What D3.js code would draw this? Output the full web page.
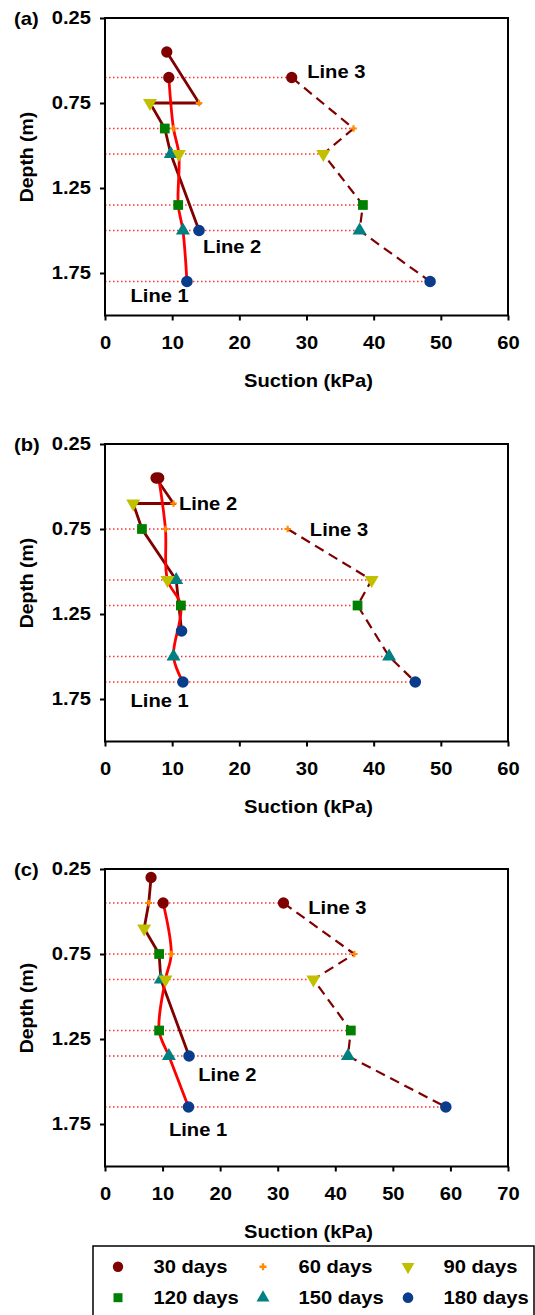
<!DOCTYPE html>
<html>
<head>
<meta charset="utf-8">
<script src="https://cdn.jsdelivr.net/npm/d3@7"></script>
<style>
    body { margin: 0; background: #fff; }
    svg text { font-family: "Liberation Sans", Arial, sans-serif; font-weight: bold; fill: #000; }
</style>
</head>
<body>
<svg id="chart" width="535" height="1315"></svg>
<script>
// categories / ticks
const dayLabels = ['30 days', '60 days', '90 days', '120 days', '150 days', '180 days'];
const depthTicks = [0.25, 0.75, 1.25, 1.75];
const suctionTicks60 = [0, 10, 20, 30, 40, 50, 60];
const suctionTicks70 = [0, 10, 20, 30, 40, 50, 60, 70];
const panelNames = ['(a)', '(b)', '(c)'];
const lineNames = ['Line 1', 'Line 2', 'Line 3'];

// panel (a) - one value per day (30..180)
const aLine1Suction = [9.5, 10.2, 11.0, 10.9, 11.6, 12.2];
const aLine1Depth = [0.6, 0.9, 1.05, 1.35, 1.5, 1.8];
const aLine2Suction = [9.2, 14.0, 6.7, 8.9, 9.8, 14.0];
const aLine2Depth = [0.45, 0.75, 0.75, 0.9, 1.05, 1.5];
const aLine3Suction = [27.8, 37.0, 32.5, 38.4, 37.9, 48.4];
const aLine3Depth = [0.6, 0.9, 1.05, 1.35, 1.5, 1.8];
const aLabelSuction = [3.8, 14.6, 30.1];
const aLabelDepth = [1.884, 1.595, 0.562];

// panel (b)
const bLine1Suction = [8.0, 9.0, 9.3, 11.3, 10.2, 11.6];
const bLine1Depth = [0.45, 0.75, 1.05, 1.2, 1.5, 1.65];
const bLine2Suction = [7.6, 10.2, 4.2, 5.5, 10.6, 11.4];
const bLine2Depth = [0.45, 0.6, 0.6, 0.75, 1.05, 1.35];
const bLine3Suction = [null, 27.2, 39.7, 37.6, 42.3, 46.2];
const bLine3Depth = [null, 0.75, 1.05, 1.2, 1.5, 1.65];
const bLabelSuction = [3.8, 11.0, 30.5];
const bLabelDepth = [1.76, 0.601, 0.75];

// panel (c)
const cLine1Suction = [10.1, 11.5, 10.5, 9.4, 11.1, 14.5];
const cLine1Depth = [0.45, 0.75, 0.9, 1.2, 1.35, 1.65];
const cLine2Suction = [8.0, 7.6, 6.8, 9.4, 9.7, 14.6];
const cLine2Depth = [0.3, 0.45, 0.6, 0.75, 0.9, 1.35];
const cLine3Suction = [31.0, 43.3, 36.2, 42.7, 42.2, 59.2];
const cLine3Depth = [0.45, 0.75, 0.9, 1.2, 1.35, 1.65];
const cLabelSuction = [11.1, 16.2, 35.3];
const cLabelDepth = [1.785, 1.456, 0.479];

// styles
const dayColors = ['#800000', '#ff8c00', '#c0c000', '#008000', '#008080', '#0a3c8c'];
const dayShapes = [d3.symbolCircle, d3.symbolCross, d3.symbolTriangle, d3.symbolSquare, d3.symbolTriangle, d3.symbolCircle];
const daySizes = [100, 24, 85, 95, 85, 105];
const dayRotate = [0, 0, 180, 0, 0, 0];
const STRETCH = 1.12;
const FONT = 18;

const svg = d3.select('#chart');

function toPoints(suction, depth) {
    return suction.map((s, i) => ({ day: i, s: s, d: depth[i] })).filter(p => p.s !== null);
}

const panels = [
    {
        name: panelNames[0], top: 18, ticks: suctionTicks60,
        lines: [toPoints(aLine1Suction, aLine1Depth), toPoints(aLine2Suction, aLine2Depth), toPoints(aLine3Suction, aLine3Depth)],
        labels: aLabelSuction.map((s, i) => ({ s: s, d: aLabelDepth[i], text: lineNames[i] }))
    },
    {
        name: panelNames[1], top: 444, ticks: suctionTicks60,
        lines: [toPoints(bLine1Suction, bLine1Depth), toPoints(bLine2Suction, bLine2Depth), toPoints(bLine3Suction, bLine3Depth)],
        labels: bLabelSuction.map((s, i) => ({ s: s, d: bLabelDepth[i], text: lineNames[i] }))
    },
    {
        name: panelNames[2], top: 869, ticks: suctionTicks70,
        lines: [toPoints(cLine1Suction, cLine1Depth), toPoints(cLine2Suction, cLine2Depth), toPoints(cLine3Suction, cLine3Depth)],
        labels: cLabelSuction.map((s, i) => ({ s: s, d: cLabelDepth[i], text: lineNames[i] }))
    }
];

// stretched bold text, baseline placed from a visual centre
function addText(g, x, y, str, anchor) {
    return g.append('text')
        .attr('transform', `translate(${x},${y + 6.5}) scale(${STRETCH},1)`)
        .attr('text-anchor', anchor || 'start')
        .style('font-size', FONT + 'px')
        .text(str);
}

const left = 105, right = 508, plotH = 297.5;

for (let p of panels) {
    const g = svg.append('g');
    const x = d3.scaleLinear().domain([0, d3.max(p.ticks)]).range([left, right]);
    const y = d3.scaleLinear().domain([0.25, 2.0]).range([p.top, p.top + plotH]);

    // dotted guides from the axis to each Line 3 reading
    g.selectAll('line.guide')
        .data(p.lines[2])
        .join('line')
        .attr('class', 'guide')
        .attr('x1', x(0))
        .attr('x2', d => x(d.s))
        .attr('y1', d => y(d.d))
        .attr('y2', d => y(d.d))
        .attr('stroke', '#ff3030')
        .attr('stroke-width', 1.5)
        .attr('stroke-dasharray', '1.5,2.5');

    // lines
    const lineGen = d3.line().x(d => x(d.s)).y(d => y(d.d));
    g.append('path').datum(p.lines[1])
        .attr('d', lineGen)
        .attr('fill', 'none').attr('stroke', '#800000').attr('stroke-width', 2.8);
    g.append('path').datum(p.lines[0])
        .attr('d', lineGen.curve(d3.curveCatmullRom.alpha(0.5)))
        .attr('fill', 'none').attr('stroke', '#ff0000').attr('stroke-width', 2.8);
    lineGen.curve(d3.curveLinear);
    g.append('path').datum(p.lines[2])
        .attr('d', lineGen)
        .attr('fill', 'none').attr('stroke', '#800000').attr('stroke-width', 2.2)
        .attr('stroke-dasharray', '10,6');

    // markers
    for (let pts of [p.lines[1], p.lines[0], p.lines[2]]) {
        g.selectAll(null)
            .data(pts)
            .join('path')
            .attr('d', d => d3.symbol().type(dayShapes[d.day]).size(daySizes[d.day])())
            .attr('transform', d => `translate(${x(d.s)},${y(d.d)}) rotate(${dayRotate[d.day]})`)
            .attr('fill', d => dayColors[d.day]);
    }

    // frame
    g.append('rect')
        .attr('x', left).attr('y', p.top)
        .attr('width', right - left).attr('height', plotH)
        .attr('fill', 'none').attr('stroke', '#000').attr('stroke-width', 2);

    // axes
    const xAxis = g.append('g')
        .attr('transform', `translate(0,${p.top + plotH})`)
        .call(d3.axisBottom(x).tickValues(p.ticks).tickSize(5).tickPadding(16).tickFormat(d3.format('d')));
    const yAxis = g.append('g')
        .attr('transform', `translate(${left},0)`)
        .call(d3.axisLeft(y).tickValues(depthTicks).tickSize(5).tickPadding(9).tickFormat(d3.format('.2f')));
    for (let ax of [xAxis, yAxis]) {
        ax.select('.domain').remove();
        ax.selectAll('line').attr('stroke', '#000').attr('stroke-width', 2);
        ax.selectAll('text')
            .style('font-size', FONT + 'px')
            .style('font-family', '"Liberation Sans", Arial, sans-serif')
            .style('font-weight', 'bold')
            .attr('fill', '#000')
            .attr('transform', `scale(${STRETCH},1)`);
    }
    yAxis.selectAll('text').attr('x', -14 / STRETCH);

    // titles
    addText(g, (left + right) / 2 + 2, p.top + plotH + 64.5, 'Suction (kPa)', 'middle');
    g.append('text')
        .attr('transform', `translate(${33},${p.top + 139}) rotate(-90) scale(1.08,1)`)
        .attr('text-anchor', 'middle')
        .style('font-size', FONT + 'px')
        .text('Depth (m)');
    addText(g, 14, p.top, p.name, 'start');

    // line annotations
    for (let lb of p.labels) {
        addText(g, x(lb.s), y(lb.d), lb.text, 'start');
    }
}

// legend
const legend = svg.append('g');
legend.append('rect')
    .attr('x', 93).attr('y', 1246)
    .attr('width', 441).attr('height', 80)
    .attr('fill', '#fff').attr('stroke', '#000').attr('stroke-width', 1.5);

const legendX = d3.scalePoint().domain([0, 1, 2]).range([118, 408]);
const legendY = d3.scalePoint().domain([0, 1]).range([1266.7, 1297.7]);

legend.selectAll('g.item')
    .data(dayLabels)
    .join('g')
    .attr('class', 'item')
    .each(function (label, i) {
        const item = d3.select(this);
        const cx = legendX(i % 3), cy = legendY(Math.floor(i / 3));
        item.append('path')
            .attr('d', d3.symbol().type(dayShapes[i]).size(i === 1 ? 28 : daySizes[i] * 0.85)())
            .attr('transform', `translate(${cx},${cy}) rotate(${dayRotate[i]})`)
            .attr('fill', dayColors[i]);
        addText(item, cx + 35.5, cy, label, 'start');
    });
</script>
</body>
</html>
